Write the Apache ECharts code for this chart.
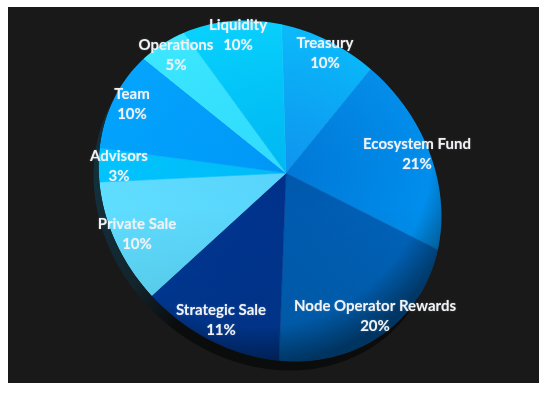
<!DOCTYPE html>
<html><head><meta charset="utf-8">
<style>html,body{margin:0;padding:0;background:#fff}#c{width:548px;height:393px}</style>
<script src="https://cdn.jsdelivr.net/npm/echarts@6/dist/echarts.min.js"></script>
</head><body><div id="c"></div>
<script>
const categories = ['Treasury','Ecosystem Fund','Node Operator Rewards','Strategic Sale','Private Sale','Advisors','Team','Operations','Liquidity'];
const percents = [10,21,20,11,10,3,10,5,10];
const innerColors = ['#1094f0','#0078d8','#0058ac','#003088','#58d4fc','#00bcf8','#0098f8','#30dcff','#00b8f4'];
const outerColors = ['#00c4ff','#0096f4','#0068c0','#003c9c','#60deff','#00c4ff','#00a4ff','#38e8ff','#00d4ff'];
const labelCenters = [[325,53],[417,154],[375,316],[221,320],[137,234],[119,166],[132,104],[176,55],[238,35]];

const apex = [286,173];
const disc = {cx:270,cy:191,a:183,b:158,rot:44*Math.PI/180};
const shadow = {cx:265,cy:200,a:183,b:158,rot:44*Math.PI/180};
const DEG = Math.PI/180;

// the photographed pie is tilted: bend the slice angles the way the perspective does
echarts.registerLayout(2000,(ecModel)=>{
  const warp = a => a + (3 + 5*Math.sin(2*(a + 55*DEG)))*DEG;
  ecModel.eachSeriesByType('pie',s=>{
    const d = s.getData();
    d.each(i=>{
      const l = d.getItemLayout(i);
      if(!l) return;
      const st = warp(l.startAngle), en = warp(l.endAngle);
      l.startAngle = st; l.endAngle = en; l.angle = en-st;
    });
  });
});

const ellPt = (e,t)=>{
  const x=e.a*Math.cos(t), y=e.b*Math.sin(t);
  return [e.cx+x*Math.cos(e.rot)-y*Math.sin(e.rot), e.cy+x*Math.sin(e.rot)+y*Math.cos(e.rot)];
};
const inside = (e,p)=>{
  const dx=p[0]-e.cx, dy=p[1]-e.cy;
  const u=dx*Math.cos(e.rot)+dy*Math.sin(e.rot), v=-dx*Math.sin(e.rot)+dy*Math.cos(e.rot);
  return u*u/(e.a*e.a)+v*v/(e.b*e.b);
};
const ellLoop = (e,dir)=>{
  const n=180,pts=[];
  for(let i=0;i<n;i++) pts.push(ellPt(e,dir*i/n*Math.PI*2));
  return pts;
};
// crescent of the drop shadow: shadow outline, then back along the disc outline
const crescent = (()=>{
  const n=720,run=[];
  const pts=[];
  for(let i=0;i<n;i++) pts.push(ellPt(shadow,i/n*Math.PI*2));
  let start=0;
  for(let i=0;i<n;i++){ if(inside(disc,pts[i])<1 && inside(disc,pts[(i+1)%n])>=1){start=i+1;break;} }
  for(let k=0;k<n;k++){ const p=pts[(start+k)%n]; if(inside(disc,p)>=1) run.push(p); else break; }
  const back=run.slice().reverse().map(p=>{
    const f=1/Math.sqrt(inside(disc,p));
    return [disc.cx+(p[0]-disc.cx)*f, disc.cy+(p[1]-disc.cy)*f];
  });
  return run.concat(back);
})();

echarts.graphic.registerShape('loops', echarts.graphic.extendShape({
  type:'loops',
  shape:{loops:[]},
  buildPath(ctx,s){
    s.loops.forEach(pts=>{
      pts.forEach((p,i)=>i?ctx.lineTo(p[0],p[1]):ctx.moveTo(p[0],p[1]));
      ctx.closePath();
    });
  }
}));
const frame=[[-5,-5],[560,-5],[560,400],[-5,400]];

const data = categories.map((name,i)=>{
  const fill={type:'radial',x:apex[0],y:apex[1],r:196,global:true,
    colorStops:[{offset:0,color:innerColors[i]},{offset:1,color:outerColors[i]}]};
  return {name,value:percents[i],itemStyle:{color:fill,borderColor:fill,borderWidth:0.6}};
});

const chart = echarts.init(document.getElementById('c'),null,{renderer:'canvas'});
chart.setOption({
  backgroundColor:'#fff',
  animation:false,
  series:[
    {type:'pie',z:2,center:apex,radius:[0,215],startAngle:90,clockwise:true,silent:true,
     data,label:{show:false},labelLine:{show:false}},
    {type:'pie',z:20,center:apex,radius:[0,215],startAngle:90,clockwise:true,silent:true,
     itemStyle:{color:'rgba(0,0,0,0)'},
     data:categories.map((name,i)=>({name,value:percents[i]})),
     label:{show:true,position:'inside',formatter:p=>`${p.name}\n${percents[p.dataIndex]}%`,
       color:'#f0f2f5',fontFamily:'Lato',fontWeight:700,fontSize:15,lineHeight:20,align:'center',verticalAlign:'middle',
       textShadowColor:'rgba(255,255,255,0.35)',textShadowBlur:1.5},
     labelLine:{show:false},
     labelLayout:p=>({x:labelCenters[p.dataIndex][0],y:labelCenters[p.dataIndex][1],align:'center',verticalAlign:'middle',hideOverlap:false})}
  ],
  graphic:{elements:[
    {type:'loops',z:3,silent:true,shape:{loops:[ellLoop(disc,1)]},
     style:{fill:{type:'linear',x:270,y:22,x2:270,y2:360,global:true,colorStops:[
       {offset:0,color:'rgba(255,255,255,0.03)'},{offset:0.55,color:'rgba(0,0,0,0)'},{offset:1,color:'rgba(0,0,0,0.14)'}]}}},
    {type:'loops',z:3,silent:true,shape:{loops:[ellLoop(disc,1)]},
     style:{fill:{type:'radial',x:255,y:150,r:216,global:true,colorStops:[
       {offset:0,color:'rgba(0,0,0,0)'},{offset:0.82,color:'rgba(0,0,0,0)'},{offset:1,color:'rgba(0,0,0,0.42)'}]}}},
    {type:'loops',z:4,silent:true,shape:{loops:[frame,ellLoop(disc,-1)]},style:{fill:'#191919'}},
    {type:'loops',z:5,silent:true,shape:{loops:[crescent]},
     style:{fill:{type:'linear',x:92,y:190,x2:330,y2:372,global:true,colorStops:[
       {offset:0,color:'#12303c'},{offset:0.3,color:'#13252d'},{offset:0.5,color:'#0a0c0d'},{offset:1,color:'#0c0c0c'}]}}},
    {type:'rect',z:6,silent:true,shape:{x:0,y:0,width:548,height:7},style:{fill:'#fff'}},
    {type:'rect',z:6,silent:true,shape:{x:0,y:383,width:548,height:10},style:{fill:'#fff'}},
    {type:'rect',z:6,silent:true,shape:{x:0,y:0,width:8,height:393},style:{fill:'#fff'}},
    {type:'rect',z:6,silent:true,shape:{x:539,y:0,width:9,height:393},style:{fill:'#fff'}}
  ]}
});
</script></body></html>
